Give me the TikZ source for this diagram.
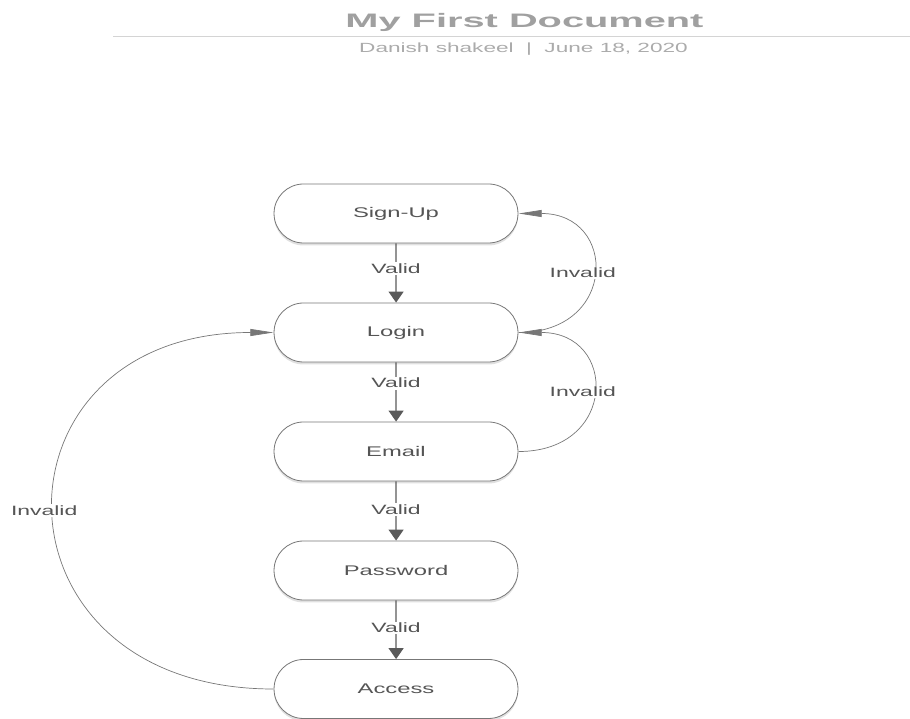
\documentclass[tikz,border=0pt]{standalone}
\usepackage{fontspec}
\setmainfont{Liberation Sans}
\usetikzlibrary{arrows.meta,shadows}
\definecolor{nodeline}{HTML}{777777}
\definecolor{nodetext}{HTML}{555555}
\definecolor{arrowcol}{HTML}{5A5A5A}
\definecolor{curvecol}{HTML}{777777}
\definecolor{titlecol}{HTML}{A0A0A0}
\definecolor{subcol}{HTML}{ABABAB}
\definecolor{rulecol}{HTML}{D4D4D4}
\begin{document}
\begin{tikzpicture}[x=0.588235pt,y=-1pt,xscale=1.7,transform shape,
  stadium/.style={draw=nodeline,line width=0.8pt,fill=white,minimum width=143.5pt,minimum height=59pt,
    rounded corners=29.5pt,text=nodetext,font=\fontsize{14}{16}\selectfont,
    drop shadow={shadow xshift=0pt,shadow yshift=-2.5pt,opacity=0.12,fill=black}},
  lbl/.style={fill=white,inner sep=1.5pt,text=nodetext,font=\fontsize{13.5}{15}\selectfont},
  varrow/.style={draw=arrowcol,line width=1.3pt,-{Triangle[length=11pt,width=15pt]}},
  carrow/.style={draw=curvecol,line width=0.7pt,-{Triangle[length=23pt,width=7pt]}}]
\useasboundingbox (0,0) rectangle (910,719);
\node[text=titlecol,font=\fontsize{19.5}{22}\bfseries] (title) at (524.5,22) {\scalebox{1.2}[1]{My First Document}};
\draw[rulecol,line width=1.8pt] (113,36.5) -- (910,36.5);
\node[text=subcol,font=\fontsize{13.3}{15}\selectfont] (sub) at (523.5,49.5) {Danish shakeel\hspace{0.55em}|\hspace{0.55em}June 18, 2020};

\node[stadium] (signup) at (396,213.5) {Sign-Up};
\node[stadium] (login) at (396,332.5) {Login};
\node[stadium] (email) at (396,451.5) {Email};
\node[stadium] (password) at (396,570.5) {Password};
\node[stadium] (access) at (396,689) {Access};

\draw[varrow] (signup) -- node[lbl,pos=0.42]{Valid} (login);
\draw[varrow] (login) -- node[lbl,pos=0.35]{Valid} (email);
\draw[varrow] (email) -- node[lbl,pos=0.48]{Valid} (password);
\draw[varrow] (password) -- node[lbl,pos=0.47]{Valid} (access);

\draw[carrow] (login.east) .. controls +(99,0) and +(99,0) .. node[lbl,xshift=-6pt]{Invalid} (signup.east);
\draw[carrow] (email.east) .. controls +(99,0) and +(99,0) .. node[lbl,xshift=-6pt]{Invalid} (login.east);
\draw[carrow] (access.west) .. controls +(-292,0) and +(-292,0) .. node[lbl,xshift=-6pt]{Invalid} (login.west);
\end{tikzpicture}
\end{document}
